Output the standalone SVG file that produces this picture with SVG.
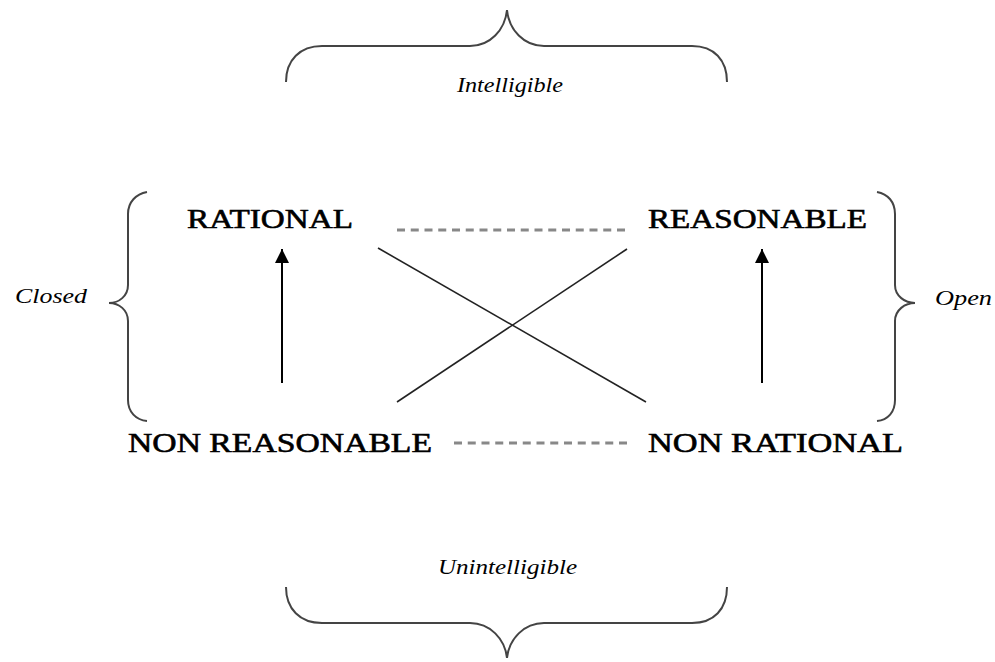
<svg xmlns="http://www.w3.org/2000/svg" width="995" height="662" viewBox="0 0 995 662">
<defs>
<style>
.brace{fill:none;stroke:#444;stroke-width:2}
.term{font-family:"Liberation Serif","Times New Roman",serif;font-size:27px;fill:#000;stroke:#000;stroke-width:0.6}
.lab{font-family:"Liberation Serif","Times New Roman",serif;font-style:italic;font-size:22px;fill:#000}
.dash{stroke:#888;stroke-width:3;stroke-dasharray:8 5.75}
.cross{stroke:#222;stroke-width:1.6}
.arr{stroke:#000;stroke-width:2}
</style>
<marker id="ah" viewBox="0 0 14 14" refX="14" refY="7" markerWidth="14" markerHeight="14" markerUnits="userSpaceOnUse" orient="auto">
<path d="M0,0 L14,7 L0,14 Z" fill="#000"/>
</marker>
</defs>
<rect width="995" height="662" fill="#fff"/>
<g id="braces">
<path id="brace-top" class="brace" d="M286,82 C286,60 300,46 322,46 L470,46 C490,46 505,30 507,10 C509,30 524,46 544,46 L692,46 C714,46 727,60 727,82"/>
<path id="brace-bottom" class="brace" d="M286,587 C286,609 300,623 322,623 L470,623 C490,623 505,639 507,658 C509,639 524,623 544,623 L692,623 C714,623 727,609 727,587"/>
<path id="brace-left" class="brace" d="M147,192 C136,194 128,202 128,214 L128,285 C128,296 119,303 109,303 C119,303 128,310 128,321 L128,400 C128,412 136,420 147,421"/>
<path id="brace-right" class="brace" d="M877,192 C888,194 895,202 895,214 L895,285 C895,296 905,303 915,303 C905,303 895,310 895,321 L895,400 C895,412 888,420 877,421"/>
</g>
<g id="labels">
<text class="lab" x="457" y="92" textLength="106" lengthAdjust="spacingAndGlyphs">Intelligible</text>
<text class="lab" x="438" y="574" textLength="139" lengthAdjust="spacingAndGlyphs">Unintelligible</text>
<text class="lab" x="15" y="303" textLength="72" lengthAdjust="spacingAndGlyphs">Closed</text>
<text class="lab" x="935" y="305" textLength="57" lengthAdjust="spacingAndGlyphs">Open</text>
</g>
<g id="connectors">
<line class="dash" x1="397" y1="230" x2="625" y2="230"/>
<line class="dash" x1="454" y1="443" x2="628" y2="443"/>
<line class="cross" x1="378" y1="248" x2="646" y2="402"/>
<line class="cross" x1="397" y1="402" x2="627" y2="249"/>
<line class="arr" x1="282" y1="383" x2="282" y2="249" marker-end="url(#ah)"/>
<line class="arr" x1="762" y1="383" x2="762" y2="249" marker-end="url(#ah)"/>
</g>
<g id="node-rational"><text class="term" x="187" y="228" textLength="166" lengthAdjust="spacingAndGlyphs">RATIONAL</text></g>
<g id="node-reasonable"><text class="term" x="648" y="228" textLength="219" lengthAdjust="spacingAndGlyphs">REASONABLE</text></g>
<g id="node-non-reasonable"><text class="term" x="128" y="452" textLength="304" lengthAdjust="spacingAndGlyphs">NON REASONABLE</text></g>
<g id="node-non-rational"><text class="term" x="648" y="452" textLength="255" lengthAdjust="spacingAndGlyphs">NON RATIONAL</text></g>
</svg>
